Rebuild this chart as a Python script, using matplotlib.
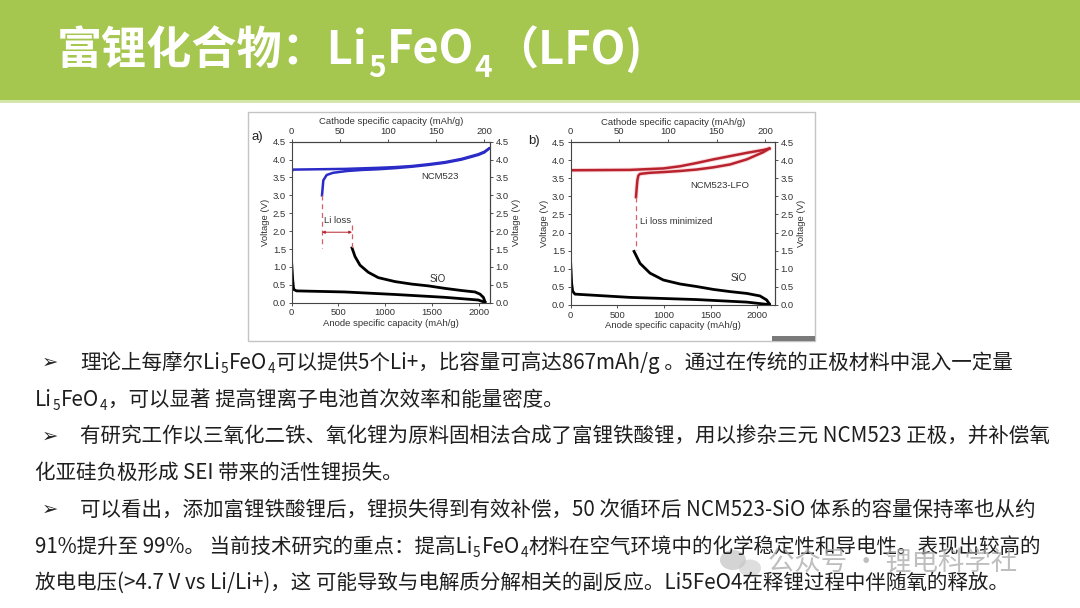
import numpy as np
import matplotlib
matplotlib.use("Agg")
import matplotlib.pyplot as plt
from matplotlib.patches import Rectangle, Ellipse

# ---- data (anode capacity mAh/g, voltage V) ----
# panel a) NCM523 / SiO
a_charge_x = [0, 8, 570, 926, 1105, 1283, 1461, 1639, 1817, 1995, 2060, 2110]
a_charge_v = [3.64, 3.72, 3.74, 3.77, 3.79, 3.82, 3.87, 3.93, 4.02, 4.15, 4.22, 4.31]
a_dis_x = [2110, 2060, 1995, 1817, 1639, 1461, 1283, 1105, 926, 750, 588, 441, 374, 338, 324]
a_dis_v = [4.31, 4.20, 4.13, 4.00, 3.91, 3.85, 3.80, 3.76, 3.73, 3.71, 3.68, 3.63, 3.57, 3.42, 3.00]
a_lith_x = [0, 11, 21, 53, 570, 1105, 1639, 1995, 2066]
a_lith_v = [1.10, 0.63, 0.37, 0.33, 0.30, 0.23, 0.15, 0.075, 0.01]
a_delith_x = [2066, 2049, 2013, 1960, 1817, 1639, 1461, 1283, 1105, 926, 819, 730, 677, 645]
a_delith_v = [0.03, 0.15, 0.24, 0.30, 0.34, 0.40, 0.47, 0.52, 0.59, 0.70, 0.85, 1.05, 1.29, 1.53]
a_loss_start, a_loss_end = 324, 645

# panel b) NCM523-LFO / SiO
b_charge_x = [0, 636, 993, 1172, 1350, 1529, 1708, 1887, 2065, 2130]
b_charge_v = [3.72, 3.73, 3.77, 3.83, 3.92, 4.02, 4.11, 4.20, 4.28, 4.32]
b_dis_x = [2130, 2065, 1887, 1708, 1529, 1350, 1172, 993, 850, 743, 725, 715, 708, 700]
b_dis_v = [4.32, 4.22, 4.02, 3.88, 3.80, 3.74, 3.70, 3.67, 3.65, 3.62, 3.57, 3.45, 3.25, 2.98]
b_lith_x = [0, 10, 21, 46, 636, 1350, 1887, 2130]
b_lith_v = [1.15, 0.60, 0.38, 0.30, 0.21, 0.15, 0.08, 0.01]
b_delith_x = [2130, 2100, 2029, 1887, 1708, 1529, 1350, 1172, 993, 850, 743, 679]
b_delith_v = [0.03, 0.14, 0.25, 0.32, 0.37, 0.43, 0.51, 0.58, 0.69, 0.88, 1.15, 1.48]
b_loss_x = 700

anode_ticks = [0, 500, 1000, 1500, 2000]
cathode_ticks = [0, 50, 100, 150, 200]
volt_ticks = np.arange(0, 4.51, 0.5)

title_pieces = [("富锂化合物：Li", False), ("5", True), ("FeO", False), ("4", True), ("（LFO)", False)]

body_lines = [
    (True, [("理论上每摩尔Li", False), ("5", True), ("FeO", False), ("4", True),
            ("可以提供5个Li+，比容量可高达867mAh/g 。通过在传统的正极材料中混入一定量", False)]),
    (False, [("Li", False), ("5", True), ("FeO", False), ("4", True),
             ("，可以显著 提高锂离子电池首次效率和能量密度。", False)]),
    (True, [("有研究工作以三氧化二铁、氧化锂为原料固相法合成了富锂铁酸锂，用以掺杂三元 NCM523 正极，并补偿氧", False)]),
    (False, [("化亚硅负极形成 SEI 带来的活性锂损失。", False)]),
    (True, [("可以看出，添加富锂铁酸锂后，锂损失得到有效补偿，50 次循环后 NCM523-SiO 体系的容量保持率也从约", False)]),
    (False, [("91%提升至 99%。 当前技术研究的重点：提高Li", False), ("5", True), ("FeO", False), ("4", True),
             ("材料在空气环境中的化学稳定性和导电性。表现出较高的", False)]),
    (False, [("放电电压(>4.7 V vs Li/Li+)，这 可能导致与电解质分解相关的副反应。Li5FeO4在释锂过程中伴随氧的释放。", False)]),
]

GREEN = "#a5c64f"
BLUE = "#2b2bc8"
RED = "#b8232e"
DASH_RED = "#d4606a"
INK = "#333333"
CJK = ["Noto Sans CJK SC", "DejaVu Sans"]
LAT = "Liberation Sans"
TICK_FS = 6.8
LABEL_FS = 6.8

W, H = 1080, 608
fig = plt.figure(figsize=(W / 100, H / 100), dpi=100)
fig.patch.set_facecolor("white")


def fx(px):
    return px / W


def fy(py):
    return 1 - py / H


# header band
fig.patches.append(Rectangle((0, fy(100)), 1, 100 / H, transform=fig.transFigure,
                             facecolor=GREEN, edgecolor="none", zorder=-2))
fig.patches.append(Rectangle((0, fy(102.5)), 1, 2.5 / H, transform=fig.transFigure,
                             facecolor="#d5e6ad", edgecolor="none", zorder=-2))

# frame around the two panels
fig.patches.append(Rectangle((fx(248), fy(341)), (815 - 248) / W, (341 - 112) / H,
                             transform=fig.transFigure, facecolor="white",
                             edgecolor="#c4c4c4", lw=1.0, zorder=-1))
fig.patches.append(Rectangle((fx(772), fy(341)), 43 / W, 5 / H, transform=fig.transFigure,
                             facecolor="#7a7a7a", edgecolor="none", zorder=-1))


def draw_panel(left, right, top, bottom, xmax, cmax, cathode, dis, lith, delith, color, glow):
    ax = fig.add_axes([fx(left), fy(bottom), (right - left) / W, (bottom - top) / H], zorder=3)
    ax.patch.set_alpha(0)
    if glow:
        ax.plot(cathode[0], cathode[1], color="#f3b0b6", lw=3.2, alpha=0.45, solid_capstyle="round")
        ax.plot(dis[0], dis[1], color="#f3b0b6", lw=3.2, alpha=0.45, solid_capstyle="round")
    ax.plot(cathode[0], cathode[1], color=color, lw=1.8)
    ax.plot(dis[0], dis[1], color=color, lw=1.8)
    ax.plot(lith[0], lith[1], color="black", lw=2.0)
    ax.plot(delith[0], delith[1], color="black", lw=2.0)
    ax.set_xlim(0, xmax)
    ax.set_ylim(0, 4.5)
    ax.set_xticks(anode_ticks)
    ax.set_yticks(volt_ticks)
    ax.set_yticklabels([f"{v:.1f}" for v in volt_ticks])
    ax.set_xlabel("Anode specific capacity (mAh/g)", fontsize=LABEL_FS, family=LAT, color=INK, labelpad=1)
    ax.set_ylabel("Voltage (V)", fontsize=LABEL_FS, family=LAT, color=INK, labelpad=2)
    k = cmax / xmax
    sx = ax.secondary_xaxis("top", functions=(lambda x: x * k, lambda x: x / k))
    sx.set_xticks(cathode_ticks)
    sx.set_xlabel("Cathode specific capacity (mAh/g)", fontsize=LABEL_FS, family=LAT, color=INK, labelpad=2)
    sy = ax.secondary_yaxis("right")
    sy.set_yticks(volt_ticks)
    sy.set_yticklabels([f"{v:.1f}" for v in volt_ticks])
    sy.set_ylabel("Voltage (V)", fontsize=LABEL_FS, family=LAT, color=INK, labelpad=2)
    for a in (ax, sx, sy):
        a.tick_params(labelsize=TICK_FS, length=2.5, width=0.6, pad=1.5, colors=INK, direction="out")
        for lab in a.get_xticklabels() + a.get_yticklabels():
            lab.set_family(LAT)
        for sp in a.spines.values():
            sp.set_color("#444444")
            sp.set_linewidth(0.8)
    return ax


ax_a = draw_panel(291.7, 490, 141.7, 302.7, 2120, 206,
                  (a_charge_x, a_charge_v), (a_dis_x, a_dis_v),
                  (a_lith_x, a_lith_v), (a_delith_x, a_delith_v), BLUE, False)
ax_a.plot([a_loss_start, a_loss_start], [3.0, 1.53], ls=(0, (4, 3)), color=DASH_RED, lw=0.9)
ax_a.plot([a_loss_end, a_loss_end], [2.17, 1.53], ls=(0, (4, 3)), color=DASH_RED, lw=0.9)
ax_a.annotate("", xy=(a_loss_end, 1.97), xytext=(a_loss_start, 1.97),
              arrowprops=dict(arrowstyle="<|-|>", color=RED, lw=0.7, mutation_scale=4,
                              shrinkA=0, shrinkB=0))
ax_a.text(345, 2.31, "Li loss", fontsize=TICK_FS, family=LAT, color=INK, va="center")
ax_a.text(1585, 3.54, "NCM523", fontsize=TICK_FS, family=LAT, color=INK, ha="center", va="center")
ax_a.text(1557, 0.65, "SiO", fontsize=7, family=LAT, color=INK, ha="center", va="center")

ax_b = draw_panel(570.7, 775, 142, 305, 2190, 210,
                  (b_charge_x, b_charge_v), (b_dis_x, b_dis_v),
                  (b_lith_x, b_lith_v), (b_delith_x, b_delith_v), RED, True)
ax_b.plot([b_loss_x, b_loss_x], [2.98, 1.52], ls=(0, (4, 3)), color=DASH_RED, lw=0.9)
ax_b.text(743, 2.31, "Li loss minimized", fontsize=TICK_FS, family=LAT, color=INK, va="center")
ax_b.text(1600, 3.29, "NCM523-LFO", fontsize=TICK_FS, family=LAT, color=INK, ha="center", va="center")
ax_b.text(1797, 0.74, "SiO", fontsize=7, family=LAT, color=INK, ha="center", va="center")

fig.text(fx(251), fy(137), "a)", fontsize=9.5, family=LAT, color="#222222", va="center")
fig.text(fx(528), fy(141), "b)", fontsize=9.5, family=LAT, color="#222222", va="center")

renderer = fig.canvas.get_renderer()


def rich(x, base, pieces, size, color, weight="normal", sub_drop=0.2):
    em = size * 100 / 72
    for s, sub in pieces:
        fs = size * 0.66 if sub else size
        yb = base + (em * sub_drop if sub else 0)
        t = fig.text(fx(x), fy(yb), s, fontsize=fs, family=CJK, color=color,
                     weight=weight, ha="left", va="baseline")
        x += t.get_window_extent(renderer).width + (1 if sub else 0.5)
    return x


# title
rich(57, 64, title_pieces, 32.5, "white", weight="bold", sub_drop=0.28)

# body text
baselines = [369, 406, 443, 479, 516, 553, 589]
for (bullet, pieces), yb in zip(body_lines, baselines):
    if bullet:
        fig.text(fx(42), fy(yb - 1), "➢", fontsize=14, family="DejaVu Sans",
                 color="#222222", ha="left", va="baseline")
        rich(80, yb, pieces, 14.8, "#1e1e1e")
    else:
        rich(35, yb, pieces, 14.8, "#1e1e1e")

# watermark
fig.patches.append(Ellipse((fx(733), fy(560)), 26 / W, 20 / H, transform=fig.transFigure,
                           facecolor="#b8b8b8", alpha=0.6, edgecolor="none"))
fig.patches.append(Ellipse((fx(750), fy(568)), 22 / W, 17 / H, transform=fig.transFigure,
                           facecolor="#c8c8c8", alpha=0.6, edgecolor="none"))
fig.text(fx(768), fy(562), "公众号 · 锂电科学社", fontsize=19, family=CJK,
         color="#a8a8a8", alpha=0.75, ha="left", va="center")

fig.savefig("out.png", dpi=100)
